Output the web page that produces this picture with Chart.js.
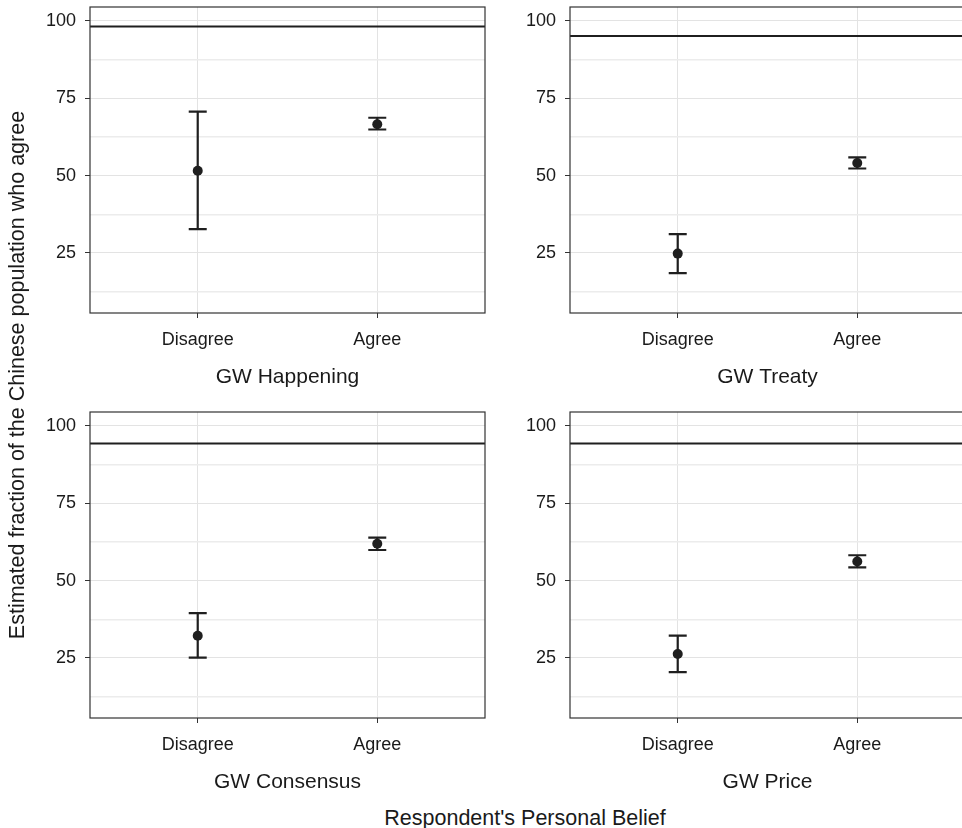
<!DOCTYPE html>
<html>
<head>
<meta charset="utf-8">
<script src="https://cdn.jsdelivr.net/npm/chart.js@4.4.0/dist/chart.umd.min.js"></script>
<style>
  body { margin: 0; background: #fff; overflow: hidden; width: 962px; height: 828px; position: relative; }
  canvas { position: absolute; }
  .lbl { position: absolute; font: 21.5px "Liberation Sans", Arial, sans-serif; color: #1a1a1a; line-height: 26px; height: 26px; text-align: center; white-space: nowrap; }
</style>
</head>
<body>
<canvas id="c0" width="490" height="390" style="left:0;top:0"></canvas>
<canvas id="c1" width="490" height="390" style="left:480px;top:0"></canvas>
<canvas id="c2" width="490" height="390" style="left:0;top:405px"></canvas>
<canvas id="c3" width="490" height="390" style="left:480px;top:405px"></canvas>
<div class="lbl" style="left:-283px;top:361.5px;width:600px;transform:rotate(-90deg)">Estimated fraction of the Chinese population who agree</div>
<div class="lbl" style="left:325px;top:805px;width:400px">Respondent's Personal Belief</div>
<script>
// paneles del grafico
const panelTitles = ['GW Happening', 'GW Treaty', 'GW Consensus', 'GW Price'];
const beliefs = ['Disagree', 'Agree'];
// estimacion media y barras de error por panel (Disagree, Agree)
const estimates = [[51.6, 66.6], [24.8, 54.1], [32.2, 61.9], [26.3, 56.2]];
const lower = [[32.7, 64.9], [18.5, 52.3], [25.1, 59.9], [20.4, 54.3]];
const upper = [[70.7, 68.7], [31.1, 55.9], [39.5, 63.9], [32.2, 58.2]];
// valor real (linea horizontal)
const actual = [98.2, 95.1, 94.3, 94.3];
const yTicks = [25, 50, 75, 100];

Chart.defaults.font.family = '"Liberation Sans", Arial, sans-serif';
Chart.defaults.color = '#1a1a1a';

const ink = '#1f1f1f';

// dibuja la linea de referencia, las barras de error y el marco
const panelPlugin = {
  id: 'panel',
  beforeDatasetsDraw(chart) {
    const { ctx, chartArea: a, scales: { x, y } } = chart;
    const i = chart.options.panelIndex;
    ctx.save();
    ctx.beginPath();
    ctx.rect(a.left, a.top, a.right - a.left, a.bottom - a.top);
    ctx.clip();
    ctx.strokeStyle = ink;
    ctx.lineWidth = 2;
    const yh = y.getPixelForValue(actual[i]);
    ctx.beginPath();
    ctx.moveTo(a.left, yh);
    ctx.lineTo(a.right, yh);
    ctx.stroke();
    ctx.lineWidth = 2.2;
    beliefs.forEach((b, j) => {
      const px = x.getPixelForValue(j + 1);
      const yl = y.getPixelForValue(lower[i][j]);
      const yu = y.getPixelForValue(upper[i][j]);
      ctx.beginPath();
      ctx.moveTo(px, yl); ctx.lineTo(px, yu);
      ctx.moveTo(px - 9, yl); ctx.lineTo(px + 9, yl);
      ctx.moveTo(px - 9, yu); ctx.lineTo(px + 9, yu);
      ctx.stroke();
    });
    ctx.restore();
  },
  afterDraw(chart) {
    const { ctx, chartArea: a } = chart;
    ctx.save();
    ctx.strokeStyle = '#333';
    ctx.lineWidth = 1.2;
    ctx.strokeRect(a.left, a.top, a.right - a.left, a.bottom - a.top);
    ctx.restore();
  }
};

panelTitles.forEach((title, i) => {
  new Chart(document.getElementById('c' + i), {
    type: 'scatter',
    data: {
      datasets: [{
        data: estimates[i].map((v, j) => ({ x: j + 1, y: v })),
        pointRadius: 5,
        backgroundColor: ink,
        borderWidth: 0
      }]
    },
    options: {
      panelIndex: i,
      responsive: false,
      animation: false,
      devicePixelRatio: 1,
      layout: { padding: { top: 7, right: 1, left: 0, bottom: 0 } },
      plugins: { legend: { display: false }, tooltip: { enabled: false } },
      scales: {
        x: {
          type: 'linear',
          min: 0.4,
          max: 2.6,
          afterBuildTicks: s => { s.ticks = beliefs.map((b, j) => ({ value: j + 1 })); },
          afterFit: s => { s.height = 77; s.paddingLeft = 0; s.paddingRight = 0; },
          ticks: { callback: v => beliefs[v - 1], font: { size: 18 }, padding: 11, maxRotation: 0 },
          grid: { color: '#e3e3e3', tickColor: '#333', tickLength: 5 },
          border: { display: false },
          title: { display: true, text: title, font: { size: 21 }, padding: { top: 0, bottom: 0 } }
        },
        y: {
          min: 5.6,
          max: 104.5,
          afterBuildTicks: s => {
            const t = [];
            yTicks.forEach(v => { t.push({ value: v - 12.5 }); t.push({ value: v }); });
            s.ticks = t;
          },
          afterFit: s => { s.width = 90; s.paddingTop = 0; s.paddingBottom = 0; },
          ticks: { callback: v => yTicks.includes(v) ? v : '', font: { size: 18 }, padding: 9 },
          grid: {
            color: c => yTicks.includes(c.tick.value) ? '#e3e3e3' : '#ececec',
            lineWidth: c => yTicks.includes(c.tick.value) ? 1 : 1.5,
            tickColor: c => yTicks.includes(c.tick.value) ? '#333' : 'rgba(0,0,0,0)',
            tickLength: 5
          },
          border: { display: false }
        }
      }
    },
    plugins: [panelPlugin]
  });
});
</script>
</body>
</html>
